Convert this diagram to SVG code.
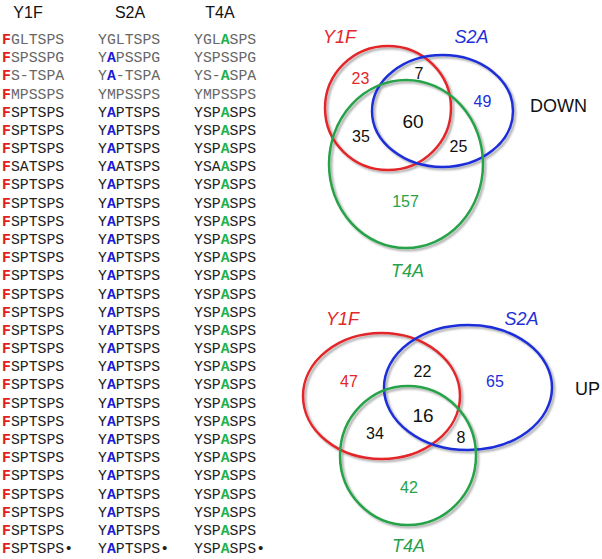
<svg xmlns="http://www.w3.org/2000/svg" width="602" height="559" viewBox="0 0 602 559">
<style>
.hd{font-family:"Liberation Sans",Arial,sans-serif;font-size:16px;fill:#111;text-anchor:middle}
.sq{font-family:"Liberation Mono","Courier New",monospace;font-size:14.8px;fill:#222}
.g{fill:#666}
.r{fill:#e3201b;font-weight:bold}
.b{fill:#1a1ad8;font-weight:bold}
.n{fill:#22b24c;font-weight:bold}
.lab{font-family:"Liberation Sans",Arial,sans-serif;font-size:18px;font-style:italic;text-anchor:middle}
.num{font-family:"Liberation Sans",Arial,sans-serif;font-size:16px;text-anchor:middle;fill:#111}
.big{font-size:19px}
.word{font-family:"Liberation Sans",Arial,sans-serif;font-size:18px;fill:#111}
.e{fill:none;stroke-width:2.5}
.er{stroke:#e3262a}.eb{stroke:#1f2fd8}.eg{stroke:#27a24a}
.tr{fill:#e3262a}.tb{fill:#1f2fd8}.tg{fill:#27a24a}
</style>
<defs>
<filter id="sh" x="-10%" y="-10%" width="120%" height="120%">
<feGaussianBlur in="SourceAlpha" stdDeviation="1.2"/>
<feOffset dx="1.5" dy="1.5" result="o"/>
<feComponentTransfer><feFuncA type="linear" slope="0.35"/></feComponentTransfer>
<feMerge><feMergeNode/><feMergeNode in="SourceGraphic"/></feMerge>
</filter>
</defs>
<rect width="602" height="559" fill="#fff"/>
<g id="headers">
<text class="hd" x="28" y="18">Y1F</text>
<text class="hd" x="130" y="18">S2A</text>
<text class="hd" x="220" y="18">T4A</text>
</g>
<g id="col-Y1F" class="sq" transform="translate(0,6)">
<text x="2" y="38"><tspan class="r">F</tspan><tspan class="g">GLTSPS</tspan></text>
<text x="2" y="56.2"><tspan class="r">F</tspan><tspan class="g">SPSSPG</tspan></text>
<text x="2" y="74.4"><tspan class="r">F</tspan><tspan class="g">S-TSPA</tspan></text>
<text x="2" y="92.5"><tspan class="r">F</tspan><tspan class="g">MPSSPS</tspan></text>
<text x="2" y="110.7"><tspan class="r">F</tspan>SPTSPS</text>
<text x="2" y="128.9"><tspan class="r">F</tspan>SPTSPS</text>
<text x="2" y="147.1"><tspan class="r">F</tspan>SPTSPS</text>
<text x="2" y="165.3"><tspan class="r">F</tspan>SATSPS</text>
<text x="2" y="183.4"><tspan class="r">F</tspan>SPTSPS</text>
<text x="2" y="201.6"><tspan class="r">F</tspan>SPTSPS</text>
<text x="2" y="219.8"><tspan class="r">F</tspan>SPTSPS</text>
<text x="2" y="238"><tspan class="r">F</tspan>SPTSPS</text>
<text x="2" y="256.2"><tspan class="r">F</tspan>SPTSPS</text>
<text x="2" y="274.3"><tspan class="r">F</tspan>SPTSPS</text>
<text x="2" y="292.5"><tspan class="r">F</tspan>SPTSPS</text>
<text x="2" y="310.7"><tspan class="r">F</tspan>SPTSPS</text>
<text x="2" y="328.9"><tspan class="r">F</tspan>SPTSPS</text>
<text x="2" y="347.1"><tspan class="r">F</tspan>SPTSPS</text>
<text x="2" y="365.2"><tspan class="r">F</tspan>SPTSPS</text>
<text x="2" y="383.4"><tspan class="r">F</tspan>SPTSPS</text>
<text x="2" y="401.6"><tspan class="r">F</tspan>SPTSPS</text>
<text x="2" y="419.8"><tspan class="r">F</tspan>SPTSPS</text>
<text x="2" y="438"><tspan class="r">F</tspan>SPTSPS</text>
<text x="2" y="456.1"><tspan class="r">F</tspan>SPTSPS</text>
<text x="2" y="474.3"><tspan class="r">F</tspan>SPTSPS</text>
<text x="2" y="492.5"><tspan class="r">F</tspan>SPTSPS</text>
<text x="2" y="510.7"><tspan class="r">F</tspan>SPTSPS</text>
<text x="2" y="528.9"><tspan class="r">F</tspan>SPTSPS</text>
<text x="2" y="547"><tspan class="r">F</tspan>SPTSPS•</text>
</g>
<g id="col-S2A" class="sq" transform="translate(0,6)">
<text x="98" y="38"><tspan class="g">YGLTSPS</tspan></text>
<text x="98" y="56.2"><tspan class="g">Y</tspan><tspan class="b">A</tspan><tspan class="g">PSSPG</tspan></text>
<text x="98" y="74.4"><tspan class="g">Y</tspan><tspan class="b">A</tspan><tspan class="g">-TSPA</tspan></text>
<text x="98" y="92.5"><tspan class="g">YMPSSPS</tspan></text>
<text x="98" y="110.7">Y<tspan class="b">A</tspan>PTSPS</text>
<text x="98" y="128.9">Y<tspan class="b">A</tspan>PTSPS</text>
<text x="98" y="147.1">Y<tspan class="b">A</tspan>PTSPS</text>
<text x="98" y="165.3">Y<tspan class="b">A</tspan>ATSPS</text>
<text x="98" y="183.4">Y<tspan class="b">A</tspan>PTSPS</text>
<text x="98" y="201.6">Y<tspan class="b">A</tspan>PTSPS</text>
<text x="98" y="219.8">Y<tspan class="b">A</tspan>PTSPS</text>
<text x="98" y="238">Y<tspan class="b">A</tspan>PTSPS</text>
<text x="98" y="256.2">Y<tspan class="b">A</tspan>PTSPS</text>
<text x="98" y="274.3">Y<tspan class="b">A</tspan>PTSPS</text>
<text x="98" y="292.5">Y<tspan class="b">A</tspan>PTSPS</text>
<text x="98" y="310.7">Y<tspan class="b">A</tspan>PTSPS</text>
<text x="98" y="328.9">Y<tspan class="b">A</tspan>PTSPS</text>
<text x="98" y="347.1">Y<tspan class="b">A</tspan>PTSPS</text>
<text x="98" y="365.2">Y<tspan class="b">A</tspan>PTSPS</text>
<text x="98" y="383.4">Y<tspan class="b">A</tspan>PTSPS</text>
<text x="98" y="401.6">Y<tspan class="b">A</tspan>PTSPS</text>
<text x="98" y="419.8">Y<tspan class="b">A</tspan>PTSPS</text>
<text x="98" y="438">Y<tspan class="b">A</tspan>PTSPS</text>
<text x="98" y="456.1">Y<tspan class="b">A</tspan>PTSPS</text>
<text x="98" y="474.3">Y<tspan class="b">A</tspan>PTSPS</text>
<text x="98" y="492.5">Y<tspan class="b">A</tspan>PTSPS</text>
<text x="98" y="510.7">Y<tspan class="b">A</tspan>PTSPS</text>
<text x="98" y="528.9">Y<tspan class="b">A</tspan>PTSPS</text>
<text x="98" y="547">Y<tspan class="b">A</tspan>PTSPS•</text>
</g>
<g id="col-T4A" class="sq" transform="translate(0,6)">
<text x="194" y="38"><tspan class="g">YGL</tspan><tspan class="n">A</tspan><tspan class="g">SPS</tspan></text>
<text x="194" y="56.2"><tspan class="g">YSPSSPG</tspan></text>
<text x="194" y="74.4"><tspan class="g">YS-</tspan><tspan class="n">A</tspan><tspan class="g">SPA</tspan></text>
<text x="194" y="92.5"><tspan class="g">YMPSSPS</tspan></text>
<text x="194" y="110.7">YSP<tspan class="n">A</tspan>SPS</text>
<text x="194" y="128.9">YSP<tspan class="n">A</tspan>SPS</text>
<text x="194" y="147.1">YSP<tspan class="n">A</tspan>SPS</text>
<text x="194" y="165.3">YSA<tspan class="n">A</tspan>SPS</text>
<text x="194" y="183.4">YSP<tspan class="n">A</tspan>SPS</text>
<text x="194" y="201.6">YSP<tspan class="n">A</tspan>SPS</text>
<text x="194" y="219.8">YSP<tspan class="n">A</tspan>SPS</text>
<text x="194" y="238">YSP<tspan class="n">A</tspan>SPS</text>
<text x="194" y="256.2">YSP<tspan class="n">A</tspan>SPS</text>
<text x="194" y="274.3">YSP<tspan class="n">A</tspan>SPS</text>
<text x="194" y="292.5">YSP<tspan class="n">A</tspan>SPS</text>
<text x="194" y="310.7">YSP<tspan class="n">A</tspan>SPS</text>
<text x="194" y="328.9">YSP<tspan class="n">A</tspan>SPS</text>
<text x="194" y="347.1">YSP<tspan class="n">A</tspan>SPS</text>
<text x="194" y="365.2">YSP<tspan class="n">A</tspan>SPS</text>
<text x="194" y="383.4">YSP<tspan class="n">A</tspan>SPS</text>
<text x="194" y="401.6">YSP<tspan class="n">A</tspan>SPS</text>
<text x="194" y="419.8">YSP<tspan class="n">A</tspan>SPS</text>
<text x="194" y="438">YSP<tspan class="n">A</tspan>SPS</text>
<text x="194" y="456.1">YSP<tspan class="n">A</tspan>SPS</text>
<text x="194" y="474.3">YSP<tspan class="n">A</tspan>SPS</text>
<text x="194" y="492.5">YSP<tspan class="n">A</tspan>SPS</text>
<text x="194" y="510.7">YSP<tspan class="n">A</tspan>SPS</text>
<text x="194" y="528.9">YSP<tspan class="n">A</tspan>SPS</text>
<text x="194" y="547">YSP<tspan class="n">A</tspan>SPS•</text>
</g>
<g id="venn-down">
<g filter="url(#sh)">
<ellipse class="e er" cx="388" cy="108" rx="63" ry="62"/>
<ellipse class="e eb" cx="442.5" cy="111" rx="70.5" ry="56"/>
<ellipse class="e eg" cx="406" cy="164" rx="77" ry="84"/>
</g>
<text class="lab tr" x="339.5" y="43">Y1F</text>
<text class="lab tb" x="471.5" y="43">S2A</text>
<text class="lab tg" x="407.5" y="277">T4A</text>
<text class="word" x="530" y="112">DOWN</text>
<text class="num tr" x="360.5" y="84">23</text>
<text class="num" x="419" y="79">7</text>
<text class="num tb" x="482.5" y="107">49</text>
<text class="num big" x="413" y="128">60</text>
<text class="num" x="361" y="142">35</text>
<text class="num" x="458.5" y="152">25</text>
<text class="num tg" x="405.5" y="207">157</text>
</g>
<g id="venn-up">
<g filter="url(#sh)">
<ellipse class="e er" cx="381.5" cy="396" rx="78.5" ry="63"/>
<ellipse class="e eb" cx="468" cy="387.5" rx="84" ry="62.5"/>
<ellipse class="e eg" cx="408" cy="455.5" rx="68" ry="69.5"/>
</g>
<text class="lab tr" x="342.5" y="325">Y1F</text>
<text class="lab tb" x="521.5" y="325">S2A</text>
<text class="lab tg" x="408.5" y="552">T4A</text>
<text class="word" x="575" y="395">UP</text>
<text class="num tr" x="349" y="387">47</text>
<text class="num" x="422.5" y="377">22</text>
<text class="num tb" x="495" y="387">65</text>
<text class="num big" x="423" y="422">16</text>
<text class="num" x="375" y="439">34</text>
<text class="num" x="461" y="443">8</text>
<text class="num tg" x="409" y="493">42</text>
</g>
</svg>
